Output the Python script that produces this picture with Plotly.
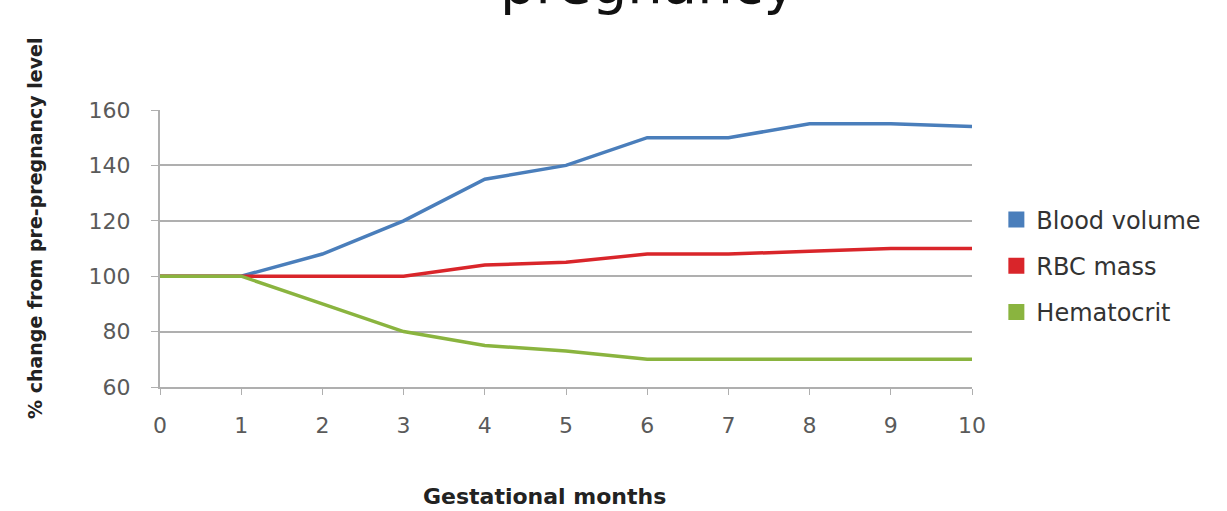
import plotly.graph_objects as go

months = [0, 1, 2, 3, 4, 5, 6, 7, 8, 9, 10]
blood_volume = [100, 100, 108, 120, 135, 140, 150, 150, 155, 155, 154]
rbc_mass = [100, 100, 100, 100, 104, 105, 108, 108, 109, 110, 110]
hematocrit = [100, 100, 90, 80, 75, 73, 70, 70, 70, 70, 70]
y_ticks = [60, 80, 100, 120, 140, 160]

series = [
    ("Blood volume", blood_volume, "#4A7EBB"),
    ("RBC mass", rbc_mass, "#D9252A"),
    ("Hematocrit", hematocrit, "#8AB43F"),
]

fig = go.Figure()
for name, vals, color in series:
    fig.add_trace(go.Scatter(
        x=months, y=vals, mode="lines", name=name,
        line=dict(color=color, width=3.5), showlegend=False,
    ))
# square swatches for the legend
for name, vals, color in series:
    fig.add_trace(go.Scatter(
        x=[None], y=[None], mode="markers", name=name, legendgroup=name,
        marker=dict(symbol="square", size=17, color=color),
    ))

font_family = "DejaVu Sans, sans-serif"

fig.update_layout(
    width=1227, height=511,
    margin=dict(l=160, r=255, t=110, b=124),
    paper_bgcolor="white", plot_bgcolor="white",
    font=dict(family=font_family, color="#333333"),
    legend=dict(
        x=1.03, y=0.437, xanchor="left", yanchor="middle",
        font=dict(size=24, color="#333333", family=font_family),
        itemwidth=30, traceorder="grouped", tracegroupgap=12,
    ),
    annotations=[
        dict(
            text="pregnancy", xref="paper", yref="paper",
            x=0.601, y=1.455, xanchor="center", yanchor="middle",
            showarrow=False, font=dict(size=56, color="#111111", family=font_family),
        ),
        dict(
            text="<b>% change from pre-pregnancy level</b>", xref="paper", yref="paper",
            x=(35 - 160) / 812, y=(387 - 228) / 277, xanchor="center", yanchor="middle",
            textangle=-90, showarrow=False,
            font=dict(size=19, color="#222222", family=font_family),
        ),
        dict(
            text="<b>Gestational months</b>", xref="paper", yref="paper",
            x=(544 - 160) / 812, y=(387 - 497) / 277, xanchor="center", yanchor="middle",
            showarrow=False, font=dict(size=22, color="#222222", family=font_family),
        ),
    ],
)

fig.update_xaxes(
    range=[0, 10], tickvals=months, ticktext=[str(m) for m in months],
    showgrid=False, showline=True, linecolor="#AFAFAF", linewidth=2,
    ticks="outside", ticklen=6, tickcolor="#AFAFAF",
    tickfont=dict(size=22, color="#5A5A5A"), ticklabelstandoff=12,
    zeroline=False,
)
fig.update_yaxes(
    range=[60, 160], tickvals=y_ticks,
    showgrid=True, gridcolor="#AFAFAF", gridwidth=2,
    showline=True, linecolor="#AFAFAF", linewidth=2,
    ticks="outside", ticklen=7, tickcolor="#AFAFAF",
    tickfont=dict(size=22, color="#5A5A5A"), ticklabelstandoff=16,
    zeroline=False,
)

fig.write_html("out.html")
